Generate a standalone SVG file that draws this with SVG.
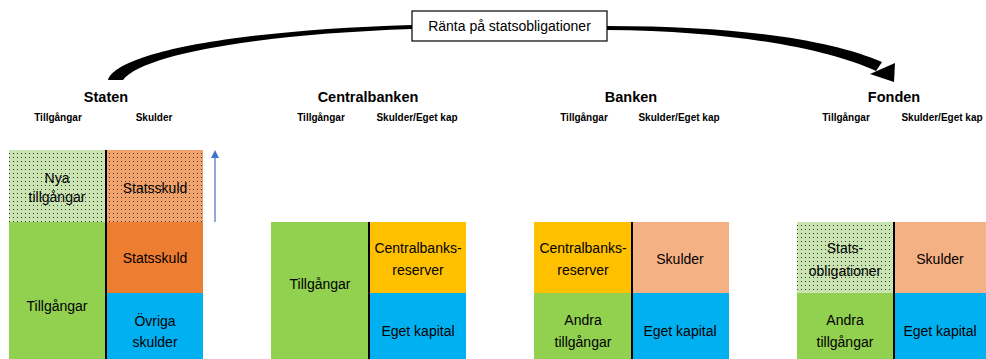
<svg xmlns="http://www.w3.org/2000/svg" width="986" height="359" viewBox="0 0 986 359">
<defs>
<pattern id="dotG" width="4" height="4" patternUnits="userSpaceOnUse"><rect width="4" height="4" fill="#C9E3B1"/><rect x="1" y="1" width="1" height="1" fill="#3a3a3a"/></pattern>
<pattern id="dotO" width="4" height="4" patternUnits="userSpaceOnUse"><rect width="4" height="4" fill="#F2A26B"/><rect x="1" y="1" width="1" height="1" fill="#3a3a3a"/></pattern>
<marker id="blueHead" markerWidth="8" markerHeight="8" refX="4" refY="4" orient="auto" markerUnits="userSpaceOnUse"><path d="M0,0 L8,4 L0,8 Z" fill="#4472C4"/></marker>
<style>
text{font-family:"Liberation Sans",Arial,sans-serif;fill:#000}
.h{font-size:14.5px;font-weight:bold;text-anchor:middle}
.s{font-size:10px;font-weight:bold;text-anchor:middle}
.c{font-size:14px;text-anchor:middle;dominant-baseline:central}
.div{stroke:#000;stroke-width:2}
</style>
</defs>
<rect width="986" height="359" fill="#fff"/>
<g id="connectors">
<path d="M108,80 C118,52 240,30 412,25 L412,29 C262,34 142,54 123,80 Z" fill="#000"/>
<path d="M607,26 C740,26 830,40 882,62 L876,71 C830,50 740,31 607,30 Z" fill="#000"/>
<path d="M870,74 L895,63 L894,82 Z" fill="#000"/>
<line x1="215" y1="222" x2="215" y2="154" stroke="#4472C4" stroke-width="1.2" marker-end="url(#blueHead)"/>
</g>
<g id="label-ranta">
<rect x="412" y="11" width="195" height="30" fill="#fff" stroke="#000" stroke-width="1.2"/>
<text class="c" x="509.5" y="26">Ränta på statsobligationer</text>
</g>
<g id="staten">
<text class="h" x="106" y="102">Staten</text>
<text class="s" x="58" y="121">Tillgångar</text>
<text class="s" x="154" y="121">Skulder</text>
<rect x="9" y="150" width="97" height="72" fill="url(#dotG)"/>
<rect x="106" y="150" width="97" height="72" fill="url(#dotO)"/>
<rect x="9" y="222" width="97" height="137" fill="#92D050"/>
<rect x="106" y="222" width="97" height="71" fill="#ED7D31"/>
<rect x="106" y="293" width="97" height="66" fill="#00B0F0"/>
<line class="div" x1="106" y1="150" x2="106" y2="359"/>
<text class="c" x="57" y="178">Nya</text>
<text class="c" x="57" y="197">tillgångar</text>
<text class="c" x="155" y="188">Statsskuld</text>
<text class="c" x="155" y="258">Statsskuld</text>
<text class="c" x="57" y="306">Tillgångar</text>
<text class="c" x="155" y="321">Övriga</text>
<text class="c" x="155" y="342">skulder</text>
</g>
<g id="centralbanken">
<text class="h" x="368" y="102">Centralbanken</text>
<text class="s" x="321" y="121">Tillgångar</text>
<text class="s" x="417" y="121">Skulder/Eget kap</text>
<rect x="271" y="222" width="98" height="137" fill="#92D050"/>
<rect x="369" y="222" width="97" height="71" fill="#FFC000"/>
<rect x="369" y="293" width="97" height="66" fill="#00B0F0"/>
<line class="div" x1="369" y1="222" x2="369" y2="359"/>
<text class="c" x="320" y="284">Tillgångar</text>
<text class="c" x="418" y="248">Centralbanks-</text>
<text class="c" x="418" y="270">reserver</text>
<text class="c" x="418" y="331">Eget kapital</text>
</g>
<g id="banken">
<text class="h" x="631" y="102">Banken</text>
<text class="s" x="584" y="121">Tillgångar</text>
<text class="s" x="679" y="121">Skulder/Eget kap</text>
<rect x="534" y="222" width="98" height="71" fill="#FFC000"/>
<rect x="534" y="293" width="98" height="66" fill="#92D050"/>
<rect x="632" y="222" width="97" height="71" fill="#F4B183"/>
<rect x="632" y="293" width="97" height="66" fill="#00B0F0"/>
<line class="div" x1="632" y1="222" x2="632" y2="359"/>
<text class="c" x="583" y="248">Centralbanks-</text>
<text class="c" x="583" y="270">reserver</text>
<text class="c" x="680" y="259">Skulder</text>
<text class="c" x="583" y="320">Andra</text>
<text class="c" x="583" y="342">tillgångar</text>
<text class="c" x="680" y="331">Eget kapital</text>
</g>
<g id="fonden">
<text class="h" x="894" y="102">Fonden</text>
<text class="s" x="846" y="121">Tillgångar</text>
<text class="s" x="942" y="121">Skulder/Eget kap</text>
<rect x="797" y="222" width="97" height="71" fill="url(#dotG)"/>
<rect x="797" y="293" width="97" height="66" fill="#92D050"/>
<rect x="894" y="222" width="92" height="71" fill="#F4B183"/>
<rect x="894" y="293" width="92" height="66" fill="#00B0F0"/>
<line class="div" x1="894" y1="222" x2="894" y2="359"/>
<text class="c" x="845" y="248">Stats-</text>
<text class="c" x="845" y="271">obligationer</text>
<text class="c" x="940" y="259">Skulder</text>
<text class="c" x="845" y="320">Andra</text>
<text class="c" x="845" y="342">tillgångar</text>
<text class="c" x="940" y="331">Eget kapital</text>
</g>
</svg>
